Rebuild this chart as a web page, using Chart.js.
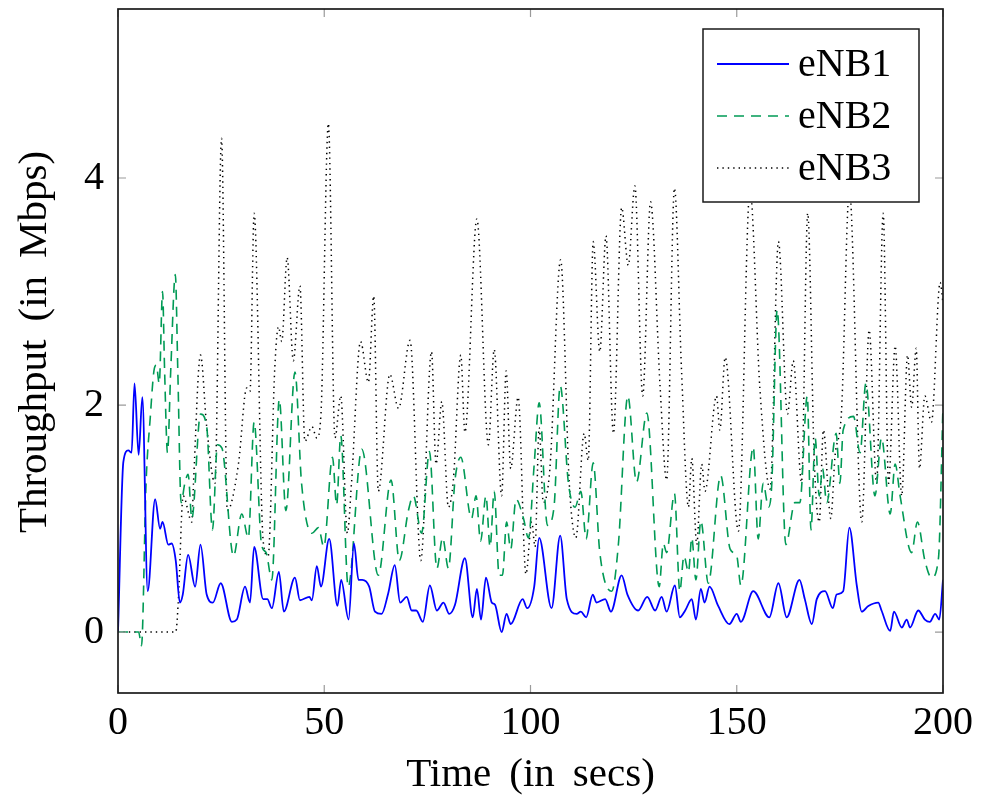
<!DOCTYPE html>
<html>
<head>
<meta charset="utf-8">
<script src="https://cdn.jsdelivr.net/npm/chart.js@4.4.0/dist/chart.umd.min.js"></script>
<style>
  html, body { margin: 0; padding: 0; background: #fff; }
  canvas { display: block; }
</style>
</head>
<body>
<canvas id="throughputChart" width="983" height="808" style="width:983px;height:808px"></canvas>
<script>
// Throughput per eNB over time
const seriesNames = ['eNB1', 'eNB2', 'eNB3'];
const xTicks = [0, 50, 100, 150, 200];
const yTicks = [0, 2, 4];

const timeEnb1 = [
  0, 1.3, 2.5, 3.3, 4, 5, 5.9, 7.2, 9, 10.2,
  10.8, 12.2, 13, 14, 15, 15.7, 17, 18.7, 20, 21.5,
  23, 24.9, 27.6, 28.8, 30.8, 32, 33, 35.2, 36.2, 37.3,
  39, 40.2, 42.9, 44.1, 46.4, 47, 48.2, 49.2, 51.2, 53.2,
  54.1, 55.9, 57.2, 58.3, 59.2, 60.9, 62.3, 63.9, 65.5, 67.1,
  68.4, 70, 71.2, 72.3, 73.9, 75.6, 77.3, 78.9, 80.3, 81.7,
  84.1, 86, 87, 88, 89.2, 90.6, 91.4, 93, 94.2, 95.2,
  98.1, 99.2, 100.9, 102.1, 105.1, 107.2, 108.8, 111.2, 112.2, 113.5,
  115.1, 116, 118.1, 119.5, 122.1, 123.5, 126.1, 128.3, 130.2, 131.8,
  133, 135, 136.2, 137.5, 139.1, 140.1, 141.3, 142.2, 143.4, 145.5,
  148.2, 150, 151, 154, 157.9, 160.1, 162.1, 165.2, 166.5, 168.2,
  169.4, 171.4, 173.3, 174.2, 175.8, 177.3, 179.1, 180.3, 181.9, 184.3,
  185.1, 187.2, 188.1, 190, 191.2, 192, 194, 195.6, 196.8, 198.1,
  199.1, 200
];
const mbpsEnb1 = [
  0, 1.5, 1.6, 1.58, 2.19, 1.56, 2.07, 0.36, 1.17, 0.91,
  0.97, 0.77, 0.78, 0.63, 0.26, 0.33, 0.68, 0.40, 0.77, 0.33,
  0.26, 0.43, 0.09, 0.11, 0.40, 0.26, 0.75, 0.29, 0.29, 0.21,
  0.53, 0.18, 0.48, 0.28, 0.31, 0.28, 0.58, 0.40, 0.82, 0.23,
  0.46, 0.11, 0.78, 0.46, 0.46, 0.40, 0.18, 0.16, 0.34, 0.59,
  0.26, 0.31, 0.19, 0.19, 0.09, 0.41, 0.19, 0.26, 0.16, 0.24,
  0.65, 0.13, 0.38, 0.11, 0.48, 0.26, 0.24, 0.00, 0.16, 0.07,
  0.29, 0.21, 0.40, 0.83, 0.21, 0.85, 0.29, 0.16, 0.18, 0.13,
  0.33, 0.26, 0.29, 0.18, 0.50, 0.33, 0.19, 0.31, 0.19, 0.31,
  0.18, 0.41, 0.13, 0.19, 0.29, 0.11, 0.38, 0.26, 0.40, 0.23,
  0.07, 0.16, 0.09, 0.36, 0.13, 0.43, 0.13, 0.46, 0.29, 0.07,
  0.29, 0.36, 0.21, 0.33, 0.36, 0.92, 0.41, 0.18, 0.23, 0.26,
  0.19, 0.01, 0.18, 0.04, 0.11, 0.04, 0.19, 0.11, 0.09, 0.16,
  0.11, 0.46
];

const timeEnb2 = [
  0, 5, 5.7, 6.8, 7.8, 8.8, 9.3, 10, 10.8, 11.3,
  12, 12.8, 13.9, 14.5, 15.3, 16.2, 17, 17.9, 20, 21.5,
  22.9, 24.1, 25.2, 28, 30, 31.6, 33, 34.8, 35.9, 37.3,
  39.1, 40.7, 42.9, 44.5, 47, 48.6, 49.9, 52, 53, 54,
  55.8, 59.1, 63.1, 66.2, 68.2, 70.4, 71.6, 73.6, 75.5, 77.3,
  78.7, 80.1, 81.7, 83.1, 85.7, 86.8, 87.9, 89.2, 90.2, 91.2,
  92.4, 93.2, 94.2, 95.2, 96.5, 98.3, 99.5, 100.9, 102.1, 104.1,
  105.7, 107.2, 109.2, 110.8, 112.2, 113.5, 115.2, 116.8, 119.7, 121.3,
  123.6, 125.7, 128.2, 131.2, 132.2, 133, 134.9, 136.2, 137.2, 138.3,
  139.1, 140.1, 141.3, 143.1, 146.1, 148.4, 150, 151, 154, 155.2,
  156.4, 157.7, 158.5, 159.8, 161.9, 164.1, 165.3, 167.1, 168, 169,
  170, 170.8, 171.8, 174.1, 175, 175.8, 178.3, 179.9, 181.3, 183.5,
  185.1, 187.2, 188.4, 189.6, 192.4, 193.8, 195.6, 197.2, 198.9, 200
];
const mbpsEnb2 = [
  0, 0, -0.12, 1.31, 1.88, 2.32, 2.35, 2.19, 3.0, 2.3,
  1.58, 2.32, 3.15, 2.3, 1.14, 1.31, 1.39, 1.0, 1.92, 1.81,
  0.9, 1.65, 1.62, 0.67, 1.04, 0.83, 1.85, 0.77, 0.70, 0.46,
  2.05, 1.07, 2.29, 1.31, 0.87, 0.92, 0.75, 1.54, 1.12, 1.73,
  0.40, 1.61, 0.50, 1.34, 0.63, 1.07, 1.20, 0.87, 1.59, 0.56,
  0.83, 0.56, 1.34, 1.54, 1.00, 1.20, 0.80, 1.20, 0.75, 1.24,
  0.50, 0.50, 0.97, 0.73, 1.17, 1.00, 0.83, 1.48, 2.02, 0.94,
  1.10, 2.17, 1.31, 1.10, 1.24, 0.82, 1.49, 0.70, 0.36, 0.77,
  2.08, 1.32, 1.93, 0.40, 0.78, 0.70, 1.22, 0.36, 0.67, 0.53,
  0.83, 0.46, 0.98, 0.43, 1.38, 0.73, 0.67, 0.41, 1.63, 0.82,
  1.31, 1.10, 1.31, 2.84, 0.77, 1.14, 1.14, 2.08, 0.90, 1.71,
  1.20, 1.44, 1.14, 1.75, 1.31, 1.78, 1.90, 1.58, 2.19, 1.20,
  1.71, 1.04, 1.48, 1.20, 0.70, 0.97, 0.63, 0.48, 0.65, 2.0
];

const timeEnb3 = [
  0, 14, 14.6, 15.8, 17.9, 18.3, 20, 21.5, 23.5, 25.1,
  26.5, 29.2, 31.2, 32, 33, 35.2, 36.4, 38, 38.9, 39.7,
  41, 42.5, 44.1, 45.3, 47, 48.2, 49.2, 51, 52.6, 54,
  55.6, 56.6, 58.8, 60.7, 62, 63.1, 65.9, 68, 70.8, 73.4,
  76, 77.1, 78.5, 80.1, 81.3, 83.1, 84.1, 87, 89.8, 91.2,
  93, 94.1, 95.2, 97, 98.9, 100.3, 101.1, 102.1, 103.1, 104.7,
  107.3, 109.4, 111, 113, 114, 115.2, 116.8, 118.3, 120.1, 122.1,
  123.7, 125.3, 127.2, 129.1, 131.4, 133, 134.9, 136.6, 138.3, 139.1,
  140.3, 141.5, 142.3, 145.1, 145.9, 147.2, 150.4, 153.2, 155.6, 158.1,
  160.1, 162.3, 163.7, 165.7, 167.2, 168.8, 170, 171, 172.8, 173.8,
  175.4, 177.3, 180.3, 182.1, 183.9, 185.5, 186.8, 188.4, 190, 191.4,
  192.4, 193.5, 194.3, 195.6, 197.2, 199.3, 200
];
const mbpsEnb3 = [
  0, 0, 0.26, 1.2, 0.97, 1.31, 2.44, 1.81, 1.31, 4.35,
  1.07, 1.48, 2.15, 2.12, 3.69, 0.80, 0.67, 2.32, 2.69, 2.56,
  3.30, 2.39, 3.05, 1.68, 1.81, 1.71, 1.92, 4.48, 1.71, 2.08,
  0.87, 1.31, 2.56, 2.20, 2.96, 1.24, 2.27, 1.97, 2.57, 0.63,
  2.47, 1.48, 2.03, 1.10, 1.34, 2.44, 1.76, 3.64, 1.65, 2.49,
  1.20, 2.30, 1.44, 2.07, 0.51, 0.97, 0.75, 1.80, 1.14, 1.44,
  3.28, 1.31, 0.83, 1.75, 1.51, 3.44, 2.47, 3.49, 1.75, 3.74,
  3.23, 3.93, 2.08, 3.79, 2.17, 1.34, 3.91, 2.32, 1.10, 1.53,
  0.77, 1.48, 1.24, 2.08, 1.78, 2.42, 0.89, 3.90, 2.15, 1.26,
  3.44, 1.92, 2.39, 1.32, 3.69, 1.50, 0.97, 1.78, 1.00, 1.54,
  1.95, 3.90, 0.97, 2.66, 1.31, 3.69, 1.31, 2.52, 1.20, 2.44,
  1.98, 2.50, 1.44, 2.08, 1.85, 3.08, 2.90
];

const FONT = "'Liberation Serif', 'Times New Roman', serif";
const seriesStyle = [
  { color: '#0000ff', dash: [], width: 1.8 },
  { color: '#009a55', dash: [10, 7], width: 1.6 },
  { color: '#000000', dash: [1.4, 4], width: 1.5 }
];

function toPoints(times, values) {
  return times.map((t, i) => ({ x: t, y: values[i] }));
}

const datasets = [
  toPoints(timeEnb1, mbpsEnb1),
  toPoints(timeEnb2, mbpsEnb2),
  toPoints(timeEnb3, mbpsEnb3)
].map((pts, i) => ({
  label: seriesNames[i],
  data: pts,
  borderColor: seriesStyle[i].color,
  borderWidth: seriesStyle[i].width,
  borderDash: seriesStyle[i].dash,
  pointRadius: 0,
  fill: false,
  cubicInterpolationMode: 'monotone'
}));

// LaTeX-like wide inter-word spacing for the axis labels
function spacedText(ctx, text, cx, cy, gap) {
  const words = text.split(' ');
  const widths = words.map(w => ctx.measureText(w).width);
  const total = widths.reduce((s, w) => s + w, 0) + gap * (words.length - 1);
  let x = cx - total / 2;
  ctx.textAlign = 'left';
  words.forEach((w, i) => {
    ctx.fillText(w, x, cy);
    x += widths[i] + gap;
  });
}

// frame, inner ticks, axis titles and the boxed legend (pgfplots look)
const pgfDecor = {
  id: 'pgfDecor',
  afterDraw(chart) {
    const { ctx, chartArea: a, scales } = chart;
    const xs = scales.x, ys = scales.y;
    ctx.save();

    // inner tick marks on all four sides
    ctx.strokeStyle = '#9a9a9a';
    ctx.lineWidth = 1.2;
    ctx.beginPath();
    xTicks.forEach(v => {
      const px = xs.getPixelForValue(v);
      ctx.moveTo(px, a.bottom); ctx.lineTo(px, a.bottom - 8);
      ctx.moveTo(px, a.top); ctx.lineTo(px, a.top + 8);
    });
    yTicks.forEach(v => {
      const py = ys.getPixelForValue(v);
      ctx.moveTo(a.left, py); ctx.lineTo(a.left + 8, py);
      ctx.moveTo(a.right, py); ctx.lineTo(a.right - 8, py);
    });
    ctx.stroke();

    // axis box
    ctx.strokeStyle = '#1a1a1a';
    ctx.lineWidth = 1.7;
    ctx.strokeRect(a.left, a.top, a.right - a.left, a.bottom - a.top);

    // axis titles
    ctx.fillStyle = '#000';
    ctx.font = '41px ' + FONT;
    ctx.textBaseline = 'middle';
    spacedText(ctx, 'Time (in secs)', (a.left + a.right) / 2, 775, 18);
    ctx.save();
    ctx.translate(35, 342);
    ctx.rotate(-Math.PI / 2);
    spacedText(ctx, 'Throughput (in Mbps)', 0, 0, 18);
    ctx.restore();

    // legend box
    const lx = 703, ly = 29, lw = 216, lh = 173;
    ctx.fillStyle = '#fff';
    ctx.fillRect(lx, ly, lw, lh);
    ctx.strokeStyle = '#1a1a1a';
    ctx.lineWidth = 1.5;
    ctx.strokeRect(lx, ly, lw, lh);
    ctx.font = '40px ' + FONT;
    const rows = [64, 116, 168];
    seriesNames.forEach((name, i) => {
      const st = seriesStyle[i];
      ctx.strokeStyle = st.color;
      ctx.lineWidth = st.width;
      ctx.setLineDash(st.dash);
      ctx.beginPath();
      ctx.moveTo(717, rows[i]);
      ctx.lineTo(789, rows[i]);
      ctx.stroke();
      ctx.setLineDash([]);
      ctx.fillStyle = '#000';
      ctx.textAlign = 'left';
      ctx.fillText(name, 798, rows[i] + 1);
    });
    ctx.restore();
  }
};

new Chart(document.getElementById('throughputChart'), {
  type: 'line',
  data: { datasets },
  options: {
    responsive: false,
    animation: false,
    layout: { padding: { top: 9, right: 40, left: 0, bottom: 0 } },
    plugins: { legend: { display: false }, tooltip: { enabled: false } },
    scales: {
      x: {
        type: 'linear',
        min: 0, max: 200,
        grid: { display: false, drawTicks: false },
        border: { display: false },
        ticks: { color: '#000', padding: 6, font: { family: FONT, size: 40 }, maxRotation: 0 },
        afterBuildTicks: s => { s.ticks = xTicks.map(v => ({ value: v })); },
        afterFit: s => { s.height = 115; s.paddingLeft = 0; s.paddingRight = 0; }
      },
      y: {
        min: -0.537, max: 5.489,
        grid: { display: false, drawTicks: false },
        border: { display: false },
        ticks: { color: '#000', padding: 14, font: { family: FONT, size: 40 } },
        afterBuildTicks: s => { s.ticks = yTicks.map(v => ({ value: v })); },
        afterFit: s => { s.width = 118; s.paddingTop = 0; s.paddingBottom = 0; }
      }
    }
  },
  plugins: [pgfDecor]
});
</script>
</body>
</html>
